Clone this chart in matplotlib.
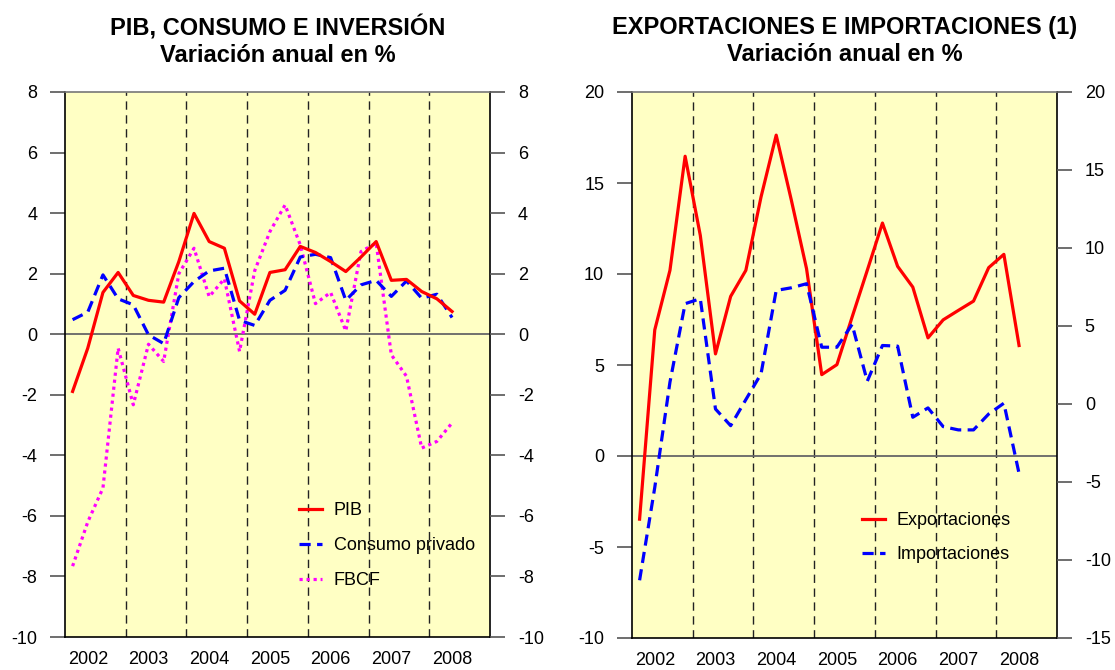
import matplotlib
matplotlib.use("Agg")
import matplotlib.pyplot as plt
import numpy as np

plt.rcParams['font.family'] = ['Liberation Sans', 'DejaVu Sans']
plt.rcParams['axes.unicode_minus'] = False

# quarters 2002T1 .. 2008T2
trimestres = [f"{a}T{q}" for a in range(2002, 2009) for q in range(1, 5)][:26]
years = ['2002', '2003', '2004', '2005', '2006', '2007', '2008']

# left panel (variacion anual en %)
pib = [-1.89, -0.46, 1.38, 2.04, 1.28, 1.12, 1.06, 2.40, 3.99, 3.06, 2.84, 1.10, 0.66,
       2.04, 2.13, 2.90, 2.70, 2.40, 2.07, 2.55, 3.06, 1.78, 1.81, 1.41, 1.17, 0.75]
consumo = [0.48, 0.73, 1.96, 1.17, 0.97, -0.02, -0.31, 1.21, 1.74, 2.09, 2.18, 0.46, 0.29,
           1.12, 1.45, 2.55, 2.64, 2.53, 1.12, 1.63, 1.78, 1.25, 1.76, 1.19, 1.32, 0.55]
fbcf = [-7.66, -6.2, -5.08, -0.46, -2.33, -0.33, -0.90, 2.0, 2.84, 1.24, 1.83, -0.57, 2.1,
        3.39, 4.27, 2.95, 1.01, 1.38, 0.11, 2.73, 3.01, -0.68, -1.39, -3.76, -3.54, -2.93]

# right panel: exports on left scale, imports on right scale
exportaciones = [-3.47, 6.93, 10.2, 16.47, 12.12, 5.61, 8.77, 10.2, 14.23, 17.63, 14.05, 10.29, 4.47,
                 5.02, 7.63, 10.2, 12.8, 10.42, 9.28, 6.49, 7.48, 8.0, 8.51, 10.35, 11.08, 6.07]
importaciones = [-11.3, -5.35, 1.4, 6.43, 6.75, -0.32, -1.39, 0.28, 1.93, 7.28, 7.45, 7.71, 3.64,
                 3.64, 5.1, 1.46, 3.75, 3.71, -0.85, -0.25, -1.45, -1.66, -1.66, -0.64, 0.05, -4.45]

BG = '#FFFFC4'
x = np.arange(len(trimestres))
n_q = len(years) * 4


def style_axes(ax, ylim, yticks):
    ax.set_facecolor(BG)
    ax.set_xlim(-0.5, n_q - 0.5)
    ax.set_ylim(*ylim)
    ax.set_yticks(yticks)
    ax.set_xticks(np.arange(len(years)) * 4 + 1)
    ax.set_xticklabels(years)
    ax.tick_params(axis='x', length=0, pad=10, labelsize=13)
    ax.tick_params(axis='y', length=11, pad=9, width=1.2, color='#555555', labelsize=13)
    for s in ['left', 'right', 'bottom']:
        ax.spines[s].set_color('black')
        ax.spines[s].set_linewidth(1.2)
    ax.spines['top'].set_color('#777777')
    ax.spines['top'].set_linewidth(1.2)
    # year dividers
    for k in range(1, len(years)):
        ax.axvline(4 * k - 0.5, color='#222222', lw=1.0, ls=(0, (6, 4)), zorder=1)
    ax.axhline(0, color='#666666', lw=1.3, zorder=1)


fig = plt.figure(figsize=(11.15, 6.7), dpi=100)

# ---- left chart ----
ax1 = fig.add_axes([65 / 1115, 1 - 637 / 670, 425 / 1115, 545 / 670])
style_axes(ax1, (-10, 8), np.arange(-10, 9, 2))
ax1r = ax1.twinx()
ax1r.set_ylim(-10, 8)
ax1r.set_yticks(np.arange(-10, 9, 2))
ax1r.tick_params(axis='y', length=11, pad=9, width=1.2, color='#555555', labelsize=13)
for s in ax1r.spines.values():
    s.set_visible(False)

l1, = ax1.plot(x, pib, color='#FF0000', lw=2.3, label='PIB', zorder=4)
l2, = ax1.plot(x, consumo, color='#0000FF', lw=2.3, ls=(0, (3.5, 2)), label='Consumo privado', zorder=3)
l3, = ax1.plot(x, fbcf, color='#FF00FF', lw=2.3, ls=(0, (1, 1.2)), label='FBCF', zorder=2)
ax1.legend(handles=[l1, l2, l3], loc='upper left', bbox_to_anchor=(0.55, 0.247),
           frameon=False, fontsize=13, borderpad=0, borderaxespad=0,
           handlelength=1.3, handletextpad=0.65, labelspacing=1.0)
ax1.text(0.5, 1 + 51 / 545, 'PIB, CONSUMO E INVERSIÓN\nVariación anual en %',
         transform=ax1.transAxes, ha='center', va='center', fontsize=17,
         fontweight='bold', linespacing=1.2)

# ---- right chart ----
ax2 = fig.add_axes([632 / 1115, 1 - 638 / 670, 425 / 1115, 546 / 670])
style_axes(ax2, (-10, 20), np.arange(-10, 21, 5))
ax2r = ax2.twinx()
ax2r.set_ylim(-15, 20)
ax2r.set_yticks(np.arange(-15, 21, 5))
ax2r.tick_params(axis='y', length=11, pad=9, width=1.2, color='#555555', labelsize=13)
for s in ax2r.spines.values():
    s.set_visible(False)

m1, = ax2.plot(x, exportaciones, color='#FF0000', lw=2.3, label='Exportaciones', zorder=4)
m2, = ax2r.plot(x, importaciones, color='#0000FF', lw=2.3, ls=(0, (3.5, 2)),
                label='Importaciones', zorder=3)
ax2r.legend(handles=[m1, m2], loc='upper left', bbox_to_anchor=(0.54, 0.231),
            frameon=False, fontsize=13, borderpad=0, borderaxespad=0,
            handlelength=1.3, handletextpad=0.65, labelspacing=0.95)
ax2.text(0.5, 1 + 51 / 546, 'EXPORTACIONES E IMPORTACIONES (1)\nVariación anual en %',
         transform=ax2.transAxes, ha='center', va='center', fontsize=17,
         fontweight='bold', linespacing=1.2)

fig.savefig('out.png', dpi=100)
